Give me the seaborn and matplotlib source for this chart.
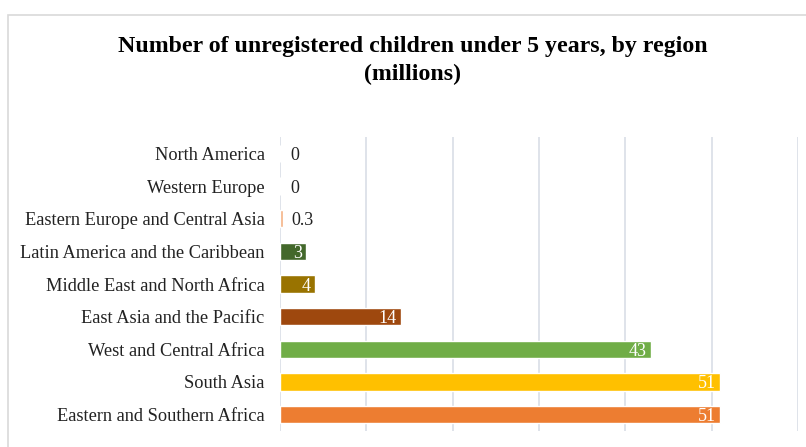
import matplotlib
matplotlib.use("Agg")
import matplotlib.pyplot as plt
import seaborn as sns
import pandas as pd
from matplotlib.patches import Rectangle

regions = ["North America", "Western Europe", "Eastern Europe and Central Asia",
           "Latin America and the Caribbean", "Middle East and North Africa",
           "East Asia and the Pacific", "West and Central Africa", "South Asia",
           "Eastern and Southern Africa"]
values = [0, 0, 0.3, 3, 4, 14, 43, 51, 51]
labels = ["0", "0", "0.3", "3", "4", "14", "43", "51", "51"]
colors = ["#5B9BD5", "#A5A5A5", "#F4B183", "#43682B", "#997300",
          "#9E480E", "#70AD47", "#FFC000", "#ED7D31"]
title = "Number of unregistered children under 5 years, by region\n(millions)"

df = pd.DataFrame({"region": regions, "value": values})

sns.set_theme(style="white")
plt.rcParams["font.family"] = ["Liberation Serif", "DejaVu Serif"]

fig = plt.figure(figsize=(8.06, 4.47), dpi=100)
ax = fig.add_axes([0.3474, 0.0358, 0.6426, 0.6577])

sns.barplot(data=df, y="region", x="value", hue="region", order=regions,
            hue_order=regions, palette=dict(zip(regions, colors)),
            orient="h", width=0.53, legend=False, ax=ax, saturation=1)

ax.set_xlim(0, 60)
ax.set_xticks(range(0, 61, 10))
ax.xaxis.grid(True, color="#D9DEE6", linewidth=1.2)
ax.set_axisbelow(True)
ax.tick_params(axis="x", labelbottom=False, length=0)
ax.tick_params(axis="y", length=0, pad=11, labelsize=13.2, labelcolor="#222222")
for s in ax.spines.values():
    s.set_visible(False)
ax.set_xlabel("")
ax.set_ylabel("")

for i, (v, lab) in enumerate(zip(values, labels)):
    if v >= 2:
        ax.annotate(lab, xy=(v, i), xytext=(-3, 0), textcoords="offset points",
                    ha="right", va="center_baseline", color="white", fontsize=13)
    else:
        ax.annotate(lab, xy=(v, i), xytext=(7.5 - v * 3, 0), textcoords="offset points",
                    ha="left", va="center_baseline", color="#222222", fontsize=13)

fig.text(0.512, 0.8647, title, ha="center", va="center", fontsize=17.2,
         fontweight="bold", color="#000000", linespacing=1.42)

fig.patches.append(Rectangle((8 / 806, -0.1), 1.2, 1 - 15 / 447 + 0.1,
                             transform=fig.transFigure, fill=False,
                             edgecolor="#D9D9D9", linewidth=1.2))

fig.savefig("out.png", dpi=100)
